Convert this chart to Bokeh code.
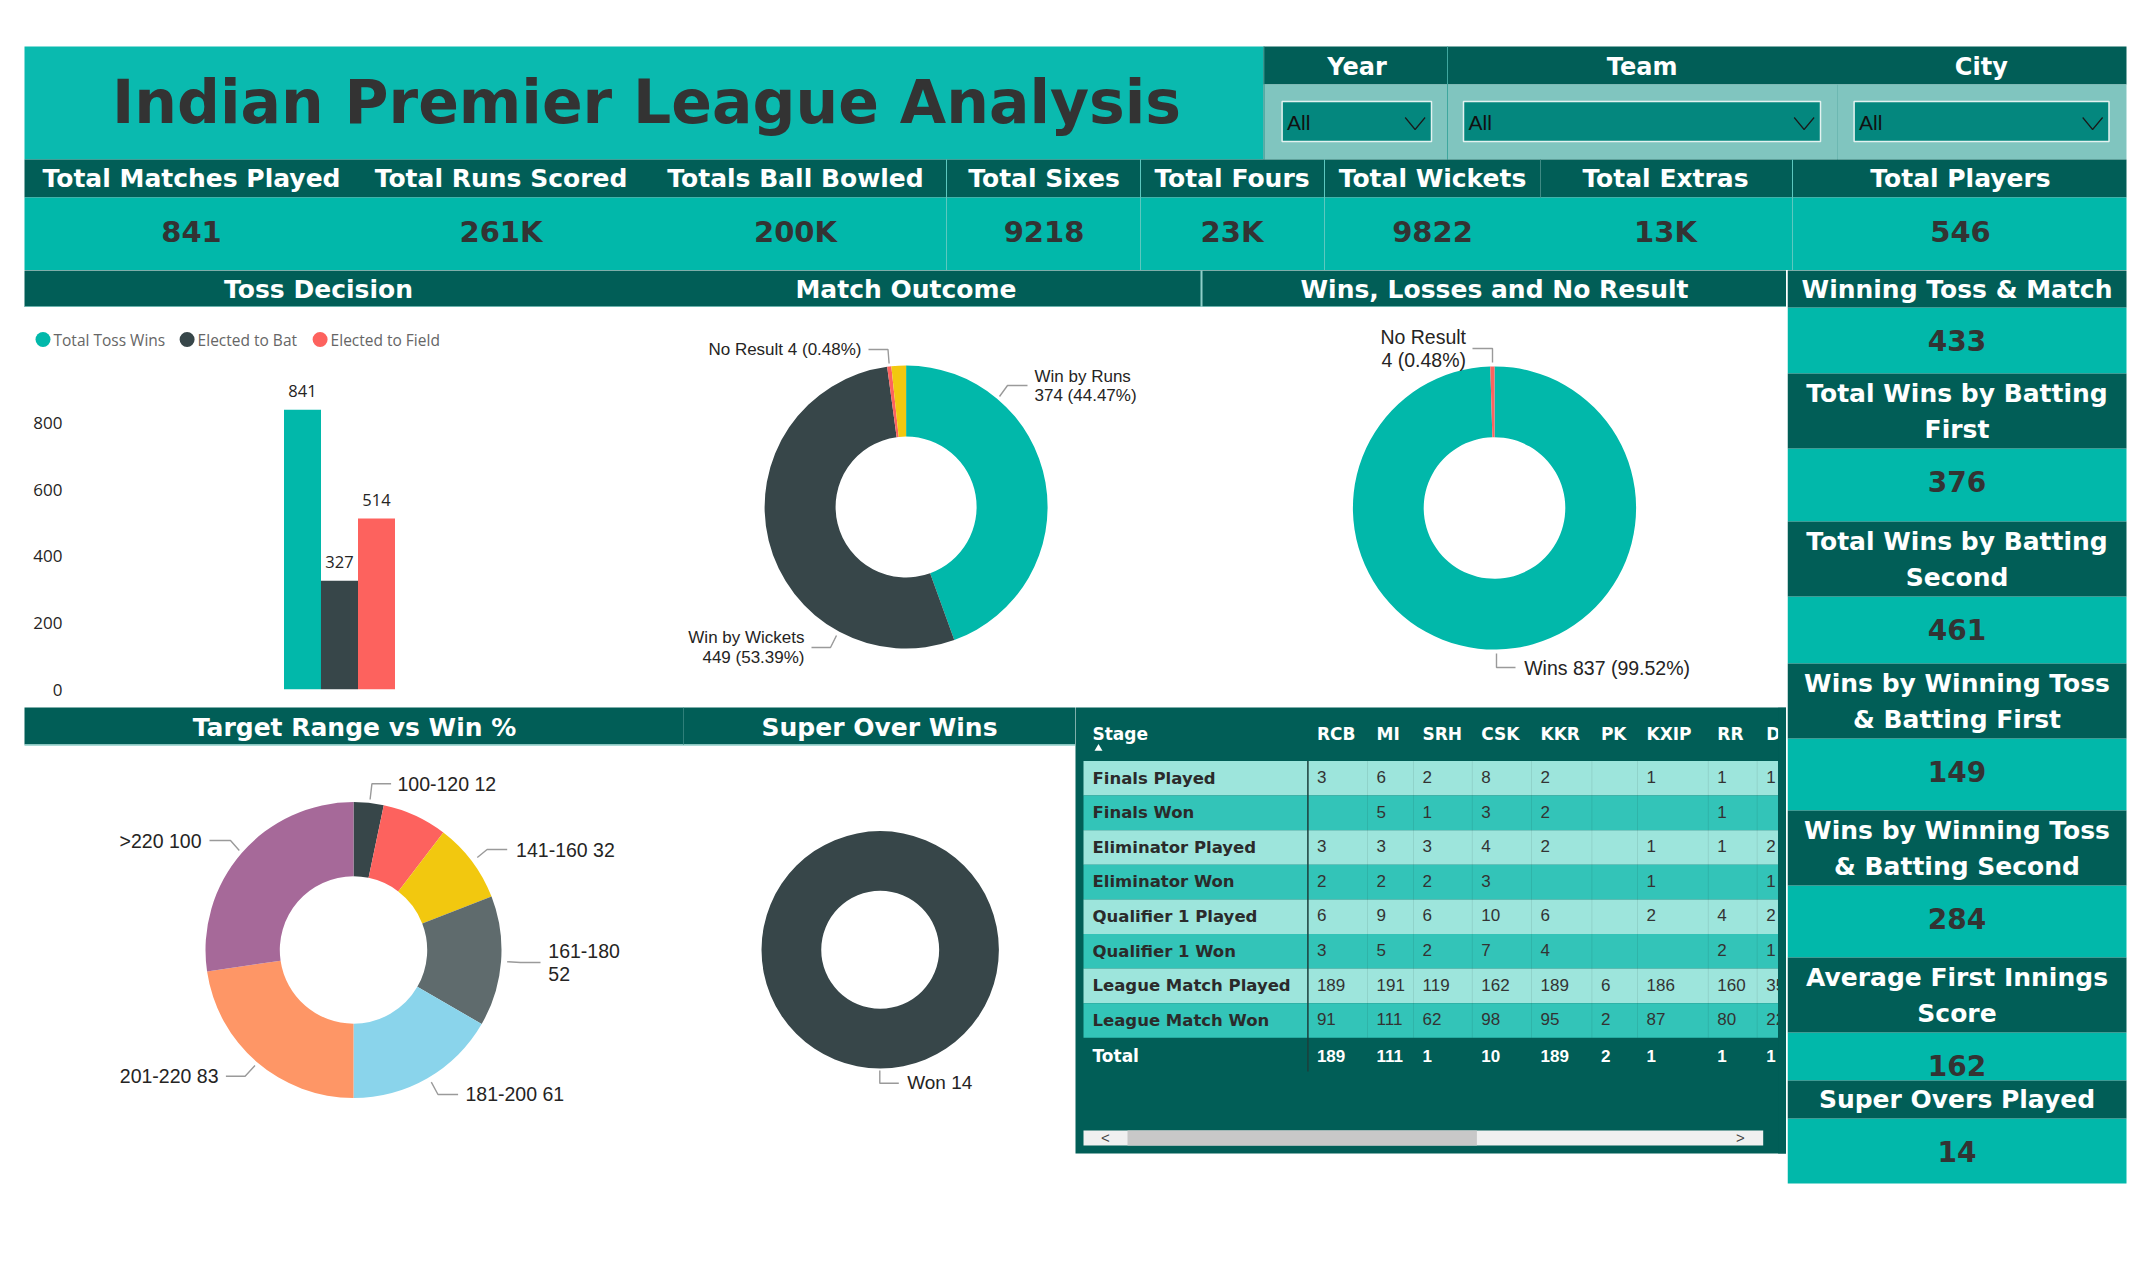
import textwrap
import numpy as np
from bokeh.plotting import figure
from bokeh.layouts import row, column
from bokeh.models import Range1d, FactorRange, FixedTicker
from bokeh.core.properties import value
from bokeh.embed import file_html
from bokeh.resources import INLINE

# ---------------- data ----------------
dashboard_title = "Indian Premier League Analysis"
filter_names = ["Year", "Team", "City"]
filter_selection = ["All", "All", "All"]

kpi_names = ["Total Matches Played", "Total Runs Scored", "Totals Ball Bowled", "Total Sixes",
             "Total Fours", "Total Wickets", "Total Extras", "Total Players"]
kpi_values = ["841", "261K", "200K", "9218", "23K", "9822", "13K", "546"]

toss_categories = ["Total Toss Wins", "Elected to Bat", "Elected to Field"]
toss_values = [841, 327, 514]
toss_ticks = [0, 200, 400, 600, 800]

outcome_categories = ["Win by Runs", "Win by Wickets", "No Result", "Tie"]
outcome_values = [374, 449, 4, 14]

result_categories = ["Wins", "No Result"]
result_values = [837, 4]

target_ranges = ["100-120", "121-140", "141-160", "161-180", "181-200", "201-220", ">220"]
target_wins = [12, 26, 32, 52, 61, 83, 100]

super_over_categories = ["Won"]
super_over_values = [14]

side_kpi_names = ["Winning Toss & Match", "Total Wins by Batting First", "Total Wins by Batting Second",
                  "Wins by Winning Toss & Batting First", "Wins by Winning Toss & Batting Second",
                  "Average First Innings Score", "Super Overs Played"]
side_kpi_values = ["433", "376", "461", "149", "284", "162", "14"]

stages = ["Finals Played", "Finals Won", "Eliminator Played", "Eliminator Won",
          "Qualifier 1 Played", "Qualifier 1 Won", "League Match Played", "League Match Won"]
teams = ["RCB", "MI", "SRH", "CSK", "KKR", "PK", "KXIP", "RR", "D"]
rcb = [3, None, 3, 2, 6, 3, 189, 91]
mi = [6, 5, 3, 2, 9, 5, 191, 111]
srh = [2, 1, 3, 2, 6, 2, 119, 62]
csk = [8, 3, 4, 3, 10, 7, 162, 98]
kkr = [2, 2, 2, None, 6, 4, 189, 95]
pk = [None, None, None, None, None, None, 6, 2]
kxip = [1, None, 1, 1, 2, None, 186, 87]
rr = [1, 1, 1, None, 4, 2, 160, 80]
dd = [1, None, 2, 1, 2, 1, 35, 22]
team_totals = [189, 111, 1, 10, 189, 2, 1, 1, 1]

# ---------------- style ----------------
W, H = 2150, 1275
DARK = "#015E57"
TEAL = "#01B8AA"
TEAL_T = "#0ABAAF"
FILTER_BG = "#80C5BF"
DROP = "#04877E"
LINE_LIGHT = "#8FCFC9"
C_TEAL, C_DARK, C_RED, C_YEL = "#01B8AA", "#374649", "#FD625E", "#F2C80F"
C_GRAY, C_BLUE, C_ORANGE, C_PURPLE = "#5F6B6D", "#8AD4EB", "#FE9666", "#A66999"
LABEL_C = "#252423"
LEADER_C = "#9A9A9A"
ROW_LIGHT, ROW_MID = "#9DE5DC", "#33C4B8"


def Y(y):
    return H - y


def canvas(x0, y0, w, h):
    p = figure(width=w, height=h, x_range=Range1d(x0, x0 + w), y_range=Range1d(H - y0 - h, H - y0),
               output_backend="svg", toolbar_location=None, tools="", min_border=0,
               x_axis_location=None, y_axis_location=None)
    p.frame_align = False
    p.grid.visible = False
    p.outline_line_color = None
    p.background_fill_color = "white"
    p.border_fill_color = "white"
    return p


def txt(p, xs, ys, texts, size, color=LABEL_C, font="DejaVu Sans", bold=False, align="center",
        baseline="middle"):
    p.text(x=list(xs), y=[Y(v) for v in ys], text=list(texts), text_font=value(font),
           text_font_size=f"{size}px", text_font_style="bold" if bold else "normal",
           text_color=color, text_align=align, text_baseline=baseline)


def box(p, x0, x1, y0, y1, color, line_color=None, line_width=1):
    p.quad(left=[x0], right=[x1], top=[Y(y0)], bottom=[Y(y1)], fill_color=color,
           line_color=line_color, line_width=line_width)


def seg(p, polylines, color, width=1.0):
    p.multi_line(xs=[[a for a, b in pl] for pl in polylines], ys=[[Y(b) for a, b in pl] for pl in polylines],
                 line_color=color, line_width=width)


def donut(p, cx, cy, r_in, r_out, vals, colors):
    v = np.array(vals, dtype=float)
    end_frac = np.cumsum(v) / v.sum()
    start_frac = np.concatenate([[0.0], end_frac[:-1]])
    p.annular_wedge(x=cx, y=Y(cy), inner_radius=r_in, outer_radius=r_out,
                    start_angle=list(np.pi / 2 - 2 * np.pi * end_frac),
                    end_angle=list(np.pi / 2 - 2 * np.pi * start_frac),
                    fill_color=colors, line_color=None, direction="anticlock")


def pie_labels(p, cats, vals, layout, size, pct_total=None):
    xs_l, ys_l = [], []
    for c, v in zip(cats, vals):
        if c not in layout:
            continue
        L = layout[c]
        vt = f"{v} ({100 * v / pct_total:.2f}%)" if pct_total else f"{v}"
        lines = [c, vt] if L["lines"] == 2 else [f"{c} {vt}"]
        txt(p, [L["x"]] * len(lines), L["ys"], lines, size, LABEL_C, font="Liberation Sans", align=L["align"])
        xs_l.append([a for a, b in L["leader"]])
        ys_l.append([Y(b) for a, b in L["leader"]])
    p.multi_line(xs=xs_l, ys=ys_l, line_color=LEADER_C, line_width=1.4)


# ---------------- A: title, filters, KPI row ----------------
A = canvas(0, 0, 2150, 270)
box(A, 24, 1263, 46, 159, TEAL_T)
txt(A, [646], [101], [dashboard_title], 60, "#333333", bold=True)

box(A, 1263, 2126, 46, 84, DARK)
box(A, 1263, 2126, 84, 159, FILTER_BG)
seg(A, [[(1447, 46), (1447, 159)]], "#3FA79F", 1)
seg(A, [[(1837, 84), (1837, 159)]], "#6DB8B2", 1)
seg(A, [[(1263.5, 46), (1263.5, 159)]], "#2E8F88", 1)
filter_centers = [1356.6, 1641.6, 1980.8]
txt(A, filter_centers, [66] * 3, filter_names, 24, "white", bold=True)
drop_x = [(1281.6, 1431), (1463, 1820), (1853.6, 2108.5)]
for (x0, x1), sel in zip(drop_x, filter_selection):
    box(A, x0, x1, 101, 141, DROP, line_color="#E3F2F0", line_width=1.5)
    txt(A, [x0 + 5], [122], [sel], 21, "#111111", font="Liberation Sans", align="left")
    seg(A, [[(x1 - 26.3, 117), (x1 - 16.4, 129), (x1 - 6.4, 117)]], "#1A1A1A", 1.2)

box(A, 24, 2126, 159, 197, DARK)
box(A, 24, 2126, 197, 272, TEAL)
seg(A, [[(x, 159), (x, 270)] for x in (946, 1140, 1324, 1792)], "#5CC8BF", 1)
seg(A, [[(1540, 159), (1540, 197)]], "#3F8A84", 1)
kpi_centers = [191, 500.5, 795, 1043.5, 1231.5, 1432, 1665, 1960]
txt(A, kpi_centers, [178] * 8, kpi_names, 25, "white", bold=True)
txt(A, kpi_centers, [231] * 8, kpi_values, 29, "#333333", bold=True)

# ---------------- middle band (section titles) ----------------
MB = canvas(0, 270, 1787, 37)
box(MB, 24, 1785.5, 268, 308, DARK)
seg(MB, [[(24, 306.5), (1785.5, 306.5)]], LINE_LIGHT, 1.5)
seg(MB, [[(1201, 268), (1201, 308)]], LINE_LIGHT, 2)
txt(MB, [318, 905.5, 1494], [289, 289, 289], ["Toss Decision", "Match Outcome", "Wins, Losses and No Result"],
    25, "white", bold=True)

# ---------------- Toss decision ----------------
toss_colors = [C_TEAL, C_DARK, C_RED]
LG = canvas(0, 307, 615, 48)
legend_marker_x = [42.5, 186.6, 319.6]
LG.scatter(x=legend_marker_x, y=[Y(339)] * 3, size=15, marker="circle", fill_color=toss_colors, line_color=None)
txt(LG, [x + 10.5 for x in legend_marker_x], [339] * 3, toss_categories, 15.5, "#666666", font="Open Sans",
    align="left")

tb = figure(width=615, height=352,
            x_range=FactorRange(factors=toss_categories, range_padding=5.77, range_padding_units="absolute"),
            y_range=Range1d(0, 974.4), output_backend="svg", toolbar_location=None, tools="",
            x_axis_location=None, y_axis_location="left",
            min_border_left=70, min_border_right=7, min_border_top=10, min_border_bottom=18)
tb.frame_align = False
tb.vbar(x=toss_categories, top=toss_values, width=1.0, fill_color=toss_colors, line_color=None)
label_pad = 19 * 974.4 / 324
tb.text(x=toss_categories, y=[v + label_pad for v in toss_values], text=[str(v) for v in toss_values],
        text_font=value("Open Sans"), text_font_size="16.5px", text_color=LABEL_C,
        text_align="center", text_baseline="middle")
ax = tb.yaxis[0]
ax.ticker = FixedTicker(ticks=toss_ticks)
ax.axis_line_color = None
ax.major_tick_line_color = None
ax.minor_tick_line_color = None
ax.major_tick_out = 0
ax.major_tick_in = 0
ax.minor_tick_out = 0
ax.major_label_standoff = 8
ax.major_label_text_font = "Open Sans"
ax.major_label_text_font_size = "17px"
ax.major_label_text_color = LABEL_C
tb.grid.visible = False
tb.outline_line_color = None
tb.background_fill_color = "white"
tb.border_fill_color = "white"

# ---------------- Match outcome ----------------
D = canvas(615, 307, 585, 400)
donut(D, 905.6, 506.5, 70.5, 141.5, outcome_values, [C_TEAL, C_DARK, C_RED, C_YEL])
outcome_layout = {
    "Win by Runs": dict(x=1034, ys=[376, 395], align="left", lines=2,
                        leader=[(999, 396), (1007, 385), (1027, 385)]),
    "Win by Wickets": dict(x=804, ys=[637, 657], align="right", lines=2,
                           leader=[(811, 647), (830, 647), (836, 635)]),
    "No Result": dict(x=861, ys=[349], align="right", lines=1,
                      leader=[(868, 349), (887.5, 349), (888.6, 363)]),
}
pie_labels(D, outcome_categories, outcome_values, outcome_layout, 17, pct_total=sum(outcome_values))

# ---------------- Wins / losses ----------------
E = canvas(1200, 307, 587, 400)
donut(E, 1494, 507.5, 70.8, 141.6, result_values, [C_TEAL, C_RED])
result_layout = {
    "No Result": dict(x=1465.5, ys=[336, 359], align="right", lines=2,
                      leader=[(1472, 348), (1492, 348), (1492, 362)]),
    "Wins": dict(x=1523.7, ys=[667], align="left", lines=1,
                 leader=[(1496, 653), (1496, 667), (1515, 667)]),
}
pie_labels(E, result_categories, result_values, result_layout, 19.5, pct_total=sum(result_values))

# ---------------- Target range + super over ----------------
F = canvas(0, 707, 1075, 568)
box(F, 24, 1085, 705, 744, DARK)
seg(F, [[(24, 744.5), (1085, 744.5)]], LINE_LIGHT, 1.5)
seg(F, [[(683, 707), (683, 744)]], "#2F7F79", 1)
txt(F, [354, 879], [726.5, 726.5], ["Target Range vs Win %", "Super Over Wins"], 25, "white", bold=True)
donut(F, 353, 949.5, 73.7, 148, target_wins, [C_DARK, C_RED, C_YEL, C_GRAY, C_BLUE, C_ORANGE, C_PURPLE])
target_layout = {
    "100-120": dict(x=397, ys=[783], align="left", lines=1,
                    leader=[(369.6, 799), (371.4, 783.3), (390.6, 783.3)]),
    "141-160": dict(x=515.6, ys=[849], align="left", lines=1,
                    leader=[(476.8, 857), (486.6, 849), (506.7, 849)]),
    "161-180": dict(x=547.8, ys=[950, 973], align="left", lines=2,
                    leader=[(506.7, 961.2), (520, 962), (540, 962)]),
    "181-200": dict(x=465, ys=[1093], align="left", lines=1,
                    leader=[(430.8, 1081.7), (437.5, 1094), (457.6, 1094)]),
    "201-220": dict(x=218, ys=[1075], align="right", lines=1,
                    leader=[(225.4, 1075.7), (244.6, 1075.7), (254.5, 1065)]),
    ">220": dict(x=201, ys=[840], align="right", lines=1,
                 leader=[(209, 840), (230, 840), (238.8, 850)]),
}
pie_labels(F, target_ranges, target_wins, target_layout, 19.5)
donut(F, 879.7, 949.3, 59, 118.7, super_over_values, [C_DARK])
super_layout = {
    "Won": dict(x=906.7, ys=[1082], align="left", lines=1,
                leader=[(879.3, 1070), (879.3, 1082.7), (898.3, 1082.7)]),
}
pie_labels(F, super_over_categories, super_over_values, super_layout, 19)

# ---------------- Stage table ----------------
G = canvas(1075, 707, 712, 568)
box(G, 1070, 1785.5, 705, 1153, DARK)
col_left = [1307.4, 1367, 1413, 1471.8, 1531, 1591.4, 1637, 1707.8, 1756.7]
tbl_x0, tbl_x1 = 1083, 1777.6
row_top, row_h = 760.5, 34.6
n_rows = len(stages)
G.quad(left=[tbl_x0] * n_rows, right=[tbl_x1] * n_rows,
       top=[Y(row_top + i * row_h) for i in range(n_rows)],
       bottom=[Y(row_top + (i + 1) * row_h) for i in range(n_rows)],
       fill_color=[ROW_LIGHT if i % 2 == 0 else ROW_MID for i in range(n_rows)], line_color=None)
G.multi_line(xs=[[x, x] for x in col_left[1:]],
             ys=[[Y(row_top), Y(row_top + n_rows * row_h)] for _ in col_left[1:]],
             line_color="#000000", line_alpha=0.08, line_width=1)
seg(G, [[(1307.4, row_top), (1307.4, 1071)]], "#1C3F3B", 1.5)
txt(G, [1092], [733], ["Stage"], 17, "white", bold=True, align="left")
G.scatter(x=[1098], y=[Y(748)], marker="triangle", size=8, fill_color="white", line_color=None)
txt(G, [c + 9 for c in col_left], [733] * len(teams), teams, 17, "white", bold=True, align="left")
txt(G, [1092] * n_rows, [row_top + i * row_h + 17 for i in range(n_rows)], stages, 16.5, "#2B2B2B",
    bold=True, align="left")
team_cols = [rcb, mi, srh, csk, kkr, pk, kxip, rr, dd]
vx, vy, vt = [], [], []
for j, col in enumerate(team_cols):
    for i, v in enumerate(col):
        if v is None:
            continue
        vx.append(col_left[j] + 9)
        vy.append(row_top + i * row_h + 16)
        vt.append(str(v))
txt(G, vx, vy, vt, 17, "#333333", font="Liberation Sans", align="left")
txt(G, [1092], [1055], ["Total"], 17, "white", bold=True, align="left")
txt(G, [c + 9 for c in col_left], [1055] * len(teams), [str(t) for t in team_totals], 17, "white",
    font="Liberation Sans", bold=True, align="left")
box(G, tbl_x1, 1785.5, 707, 1153, DARK)
box(G, 1083, 1762.7, 1130, 1145, "#F0F0F0")
box(G, 1127, 1476.4, 1130, 1145, "#C8C8C8")
txt(G, [1105, 1740], [1137, 1137], ["<", ">"], 15, "#444444", font="Liberation Sans")

# ---------------- Right KPI panel ----------------
B = canvas(1787, 270, 363, 1005)
side_bounds = [(268, 307, 373), (373, 448, 521), (521, 596, 663), (663, 738, 810),
               (810, 885, 957), (957, 1032, 1080), (1080, 1118, 1183)]
px0, px1, pcx = 1787, 2126, 1956.5
for (h0, h1, v1) in side_bounds:
    box(B, px0, px1, h1, v1, TEAL)
txt(B, [pcx] * len(side_kpi_values), [b[1] + 33 for b in side_bounds], side_kpi_values, 28, "#333333",
    bold=True)
hx, hy, ht = [], [], []
for (h0, h1, v1), name in zip(side_bounds, side_kpi_names):
    box(B, px0, px1, h0, h1, DARK)
    lines = textwrap.wrap(name, 21)
    mid = (max(h0, 270) + h1) / 2
    for k, ln in enumerate(lines):
        hx.append(pcx)
        hy.append(mid + (k - (len(lines) - 1) / 2) * 36)
        ht.append(ln)
txt(B, hx, hy, ht, 25, "white", bold=True)

# ---------------- layout ----------------
toss_col = column(LG, tb, spacing=0)
charts_row = row(toss_col, D, E, spacing=0)
mid_block = column(MB, charts_row, spacing=0)
bot_row = row(F, G, spacing=0)
left_block = column(mid_block, bot_row, spacing=0)
lower = row(left_block, B, spacing=0)
page = column(A, lower, spacing=0)

open("out.html", "w").write(file_html(page, INLINE))
